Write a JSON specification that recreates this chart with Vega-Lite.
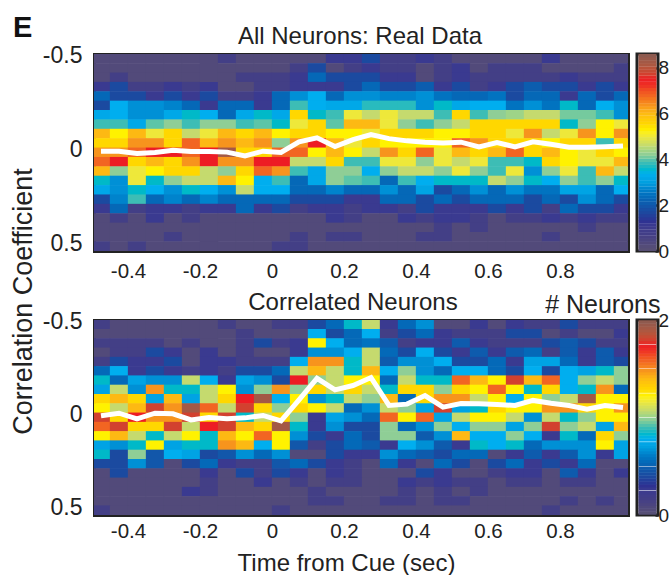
{"$schema":"https://vega.github.io/schema/vega-lite/v6.json","background":"white","padding":{"left":8,"top":14,"right":0,"bottom":0},"bounds":"flush","align":"each","columns":2,"spacing":{"row":69,"column":9},"resolve":{"scale":{"color":"independent"}},
"title":{"text":"E","anchor":"start","frame":"bounds","font":"Liberation Sans","fontWeight":"bold","fontSize":29,"color":"#111","offset":-19,"dx":4},
"config":{"font":"Liberation Sans","view":{"stroke":null},"axis":{"zindex":1,"grid":false,"domainColor":"#222","domainWidth":3,"domainCap":"square","tickColor":"#222","tickWidth":2.5,"labelFont":"Liberation Sans","labelFontSize":20.5,"labelColor":"#222","titleFont":"Liberation Sans","titleFontWeight":"normal","titleFontSize":24,"titleColor":"#222"}},
"concat":[
{"width":534,"height":197,"resolve":{"axis":{"x":"independent","y":"independent"}},"layer":[
{"data":{"values":[
{"t":-0.475,"c":-0.5,"n":0.26},{"t":-0.425,"c":-0.5,"n":0.26},{"t":-0.375,"c":-0.5,"n":0.26},{"t":-0.325,"c":-0.5,"n":0.26},{"t":-0.275,"c":-0.5,"n":0.26},{"t":-0.225,"c":-0.5,"n":0.26},{"t":-0.175,"c":-0.5,"n":0.26},{"t":-0.125,"c":-0.5,"n":0.69},{"t":-0.075,"c":-0.5,"n":0.26},{"t":-0.025,"c":-0.5,"n":0.26},{"t":0.025,"c":-0.5,"n":0.26},{"t":0.075,"c":-0.5,"n":0.26},{"t":0.125,"c":-0.5,"n":0.26},{"t":0.175,"c":-0.5,"n":1.12},{"t":0.225,"c":-0.5,"n":1.12},{"t":0.275,"c":-0.5,"n":1.72},{"t":0.325,"c":-0.5,"n":0.69},{"t":0.375,"c":-0.5,"n":0.69},{"t":0.425,"c":-0.5,"n":1.12},{"t":0.475,"c":-0.5,"n":0.69},{"t":0.525,"c":-0.5,"n":0.26},{"t":0.575,"c":-0.5,"n":0.26},{"t":0.625,"c":-0.5,"n":0.26},{"t":0.675,"c":-0.5,"n":0.26},{"t":0.725,"c":-0.5,"n":0.26},{"t":0.775,"c":-0.5,"n":1.12},{"t":0.825,"c":-0.5,"n":0.26},{"t":0.875,"c":-0.5,"n":0.26},{"t":0.925,"c":-0.5,"n":0.26},{"t":0.975,"c":-0.5,"n":0.26},
{"t":-0.475,"c":-0.45,"n":0.26},{"t":-0.425,"c":-0.45,"n":0.26},{"t":-0.375,"c":-0.45,"n":0.26},{"t":-0.325,"c":-0.45,"n":0.26},{"t":-0.275,"c":-0.45,"n":0.26},{"t":-0.225,"c":-0.45,"n":0.26},{"t":-0.175,"c":-0.45,"n":0.26},{"t":-0.125,"c":-0.45,"n":0.26},{"t":-0.075,"c":-0.45,"n":0.26},{"t":-0.025,"c":-0.45,"n":0.26},{"t":0.025,"c":-0.45,"n":0.26},{"t":0.075,"c":-0.45,"n":0.69},{"t":0.125,"c":-0.45,"n":1.72},{"t":0.175,"c":-0.45,"n":0.26},{"t":0.225,"c":-0.45,"n":0.69},{"t":0.275,"c":-0.45,"n":1.12},{"t":0.325,"c":-0.45,"n":0.69},{"t":0.375,"c":-0.45,"n":0.69},{"t":0.425,"c":-0.45,"n":0.26},{"t":0.475,"c":-0.45,"n":0.69},{"t":0.525,"c":-0.45,"n":1.12},{"t":0.575,"c":-0.45,"n":0.26},{"t":0.625,"c":-0.45,"n":0.69},{"t":0.675,"c":-0.45,"n":0.69},{"t":0.725,"c":-0.45,"n":0.69},{"t":0.775,"c":-0.45,"n":0.26},{"t":0.825,"c":-0.45,"n":0.26},{"t":0.875,"c":-0.45,"n":0.26},{"t":0.925,"c":-0.45,"n":0.26},{"t":0.975,"c":-0.45,"n":0.69},
{"t":-0.475,"c":-0.4,"n":0.26},{"t":-0.425,"c":-0.4,"n":0.69},{"t":-0.375,"c":-0.4,"n":0.26},{"t":-0.325,"c":-0.4,"n":0.26},{"t":-0.275,"c":-0.4,"n":0.26},{"t":-0.225,"c":-0.4,"n":0.26},{"t":-0.175,"c":-0.4,"n":0.26},{"t":-0.125,"c":-0.4,"n":0.26},{"t":-0.075,"c":-0.4,"n":0.69},{"t":-0.025,"c":-0.4,"n":0.69},{"t":0.025,"c":-0.4,"n":0.69},{"t":0.075,"c":-0.4,"n":1.12},{"t":0.125,"c":-0.4,"n":2.3},{"t":0.175,"c":-0.4,"n":1.72},{"t":0.225,"c":-0.4,"n":1.72},{"t":0.275,"c":-0.4,"n":1.72},{"t":0.325,"c":-0.4,"n":1.12},{"t":0.375,"c":-0.4,"n":1.12},{"t":0.425,"c":-0.4,"n":0.26},{"t":0.475,"c":-0.4,"n":0.69},{"t":0.525,"c":-0.4,"n":1.12},{"t":0.575,"c":-0.4,"n":0.69},{"t":0.625,"c":-0.4,"n":0.69},{"t":0.675,"c":-0.4,"n":0.69},{"t":0.725,"c":-0.4,"n":0.69},{"t":0.775,"c":-0.4,"n":0.69},{"t":0.825,"c":-0.4,"n":1.12},{"t":0.875,"c":-0.4,"n":0.69},{"t":0.925,"c":-0.4,"n":0.69},{"t":0.975,"c":-0.4,"n":0.69},
{"t":-0.475,"c":-0.35,"n":1.12},{"t":-0.425,"c":-0.35,"n":1.72},{"t":-0.375,"c":-0.35,"n":0.69},{"t":-0.325,"c":-0.35,"n":0.69},{"t":-0.275,"c":-0.35,"n":1.12},{"t":-0.225,"c":-0.35,"n":0.69},{"t":-0.175,"c":-0.35,"n":1.12},{"t":-0.125,"c":-0.35,"n":0.26},{"t":-0.075,"c":-0.35,"n":0.26},{"t":-0.025,"c":-0.35,"n":0.69},{"t":0.025,"c":-0.35,"n":0.69},{"t":0.075,"c":-0.35,"n":1.12},{"t":0.125,"c":-0.35,"n":1.12},{"t":0.175,"c":-0.35,"n":1.12},{"t":0.225,"c":-0.35,"n":1.72},{"t":0.275,"c":-0.35,"n":2.3},{"t":0.325,"c":-0.35,"n":1.72},{"t":0.375,"c":-0.35,"n":1.72},{"t":0.425,"c":-0.35,"n":2.1},{"t":0.475,"c":-0.35,"n":1.12},{"t":0.525,"c":-0.35,"n":1.72},{"t":0.575,"c":-0.35,"n":0.69},{"t":0.625,"c":-0.35,"n":1.12},{"t":0.675,"c":-0.35,"n":1.72},{"t":0.725,"c":-0.35,"n":2.1},{"t":0.775,"c":-0.35,"n":1.72},{"t":0.825,"c":-0.35,"n":1.72},{"t":0.875,"c":-0.35,"n":1.12},{"t":0.925,"c":-0.35,"n":1.72},{"t":0.975,"c":-0.35,"n":1.12},
{"t":-0.475,"c":-0.3,"n":2.3},{"t":-0.425,"c":-0.3,"n":1.72},{"t":-0.375,"c":-0.3,"n":1.72},{"t":-0.325,"c":-0.3,"n":1.12},{"t":-0.275,"c":-0.3,"n":1.72},{"t":-0.225,"c":-0.3,"n":1.12},{"t":-0.175,"c":-0.3,"n":1.72},{"t":-0.125,"c":-0.3,"n":0.69},{"t":-0.075,"c":-0.3,"n":0.69},{"t":-0.025,"c":-0.3,"n":1.12},{"t":0.025,"c":-0.3,"n":2.3},{"t":0.075,"c":-0.3,"n":2.84},{"t":0.125,"c":-0.3,"n":3.35},{"t":0.175,"c":-0.3,"n":2.3},{"t":0.225,"c":-0.3,"n":2.84},{"t":0.275,"c":-0.3,"n":2.84},{"t":0.325,"c":-0.3,"n":2.7},{"t":0.375,"c":-0.3,"n":2.7},{"t":0.425,"c":-0.3,"n":2.84},{"t":0.475,"c":-0.3,"n":2.5},{"t":0.525,"c":-0.3,"n":2.3},{"t":0.575,"c":-0.3,"n":2.3},{"t":0.625,"c":-0.3,"n":2.5},{"t":0.675,"c":-0.3,"n":1.72},{"t":0.725,"c":-0.3,"n":2.3},{"t":0.775,"c":-0.3,"n":2.3},{"t":0.825,"c":-0.3,"n":1.12},{"t":0.875,"c":-0.3,"n":2.3},{"t":0.925,"c":-0.3,"n":1.72},{"t":0.975,"c":-0.3,"n":2.3},
{"t":-0.475,"c":-0.25,"n":1.72},{"t":-0.425,"c":-0.25,"n":3.35},{"t":-0.375,"c":-0.25,"n":2.84},{"t":-0.325,"c":-0.25,"n":2.84},{"t":-0.275,"c":-0.25,"n":2.7},{"t":-0.225,"c":-0.25,"n":2.3},{"t":-0.175,"c":-0.25,"n":1.12},{"t":-0.125,"c":-0.25,"n":2.3},{"t":-0.075,"c":-0.25,"n":2.3},{"t":-0.025,"c":-0.25,"n":1.12},{"t":0.025,"c":-0.25,"n":2.3},{"t":0.075,"c":-0.25,"n":3.87},{"t":0.125,"c":-0.25,"n":3.35},{"t":0.175,"c":-0.25,"n":3.2},{"t":0.225,"c":-0.25,"n":3.2},{"t":0.275,"c":-0.25,"n":3.75},{"t":0.325,"c":-0.25,"n":3.75},{"t":0.375,"c":-0.25,"n":3.75},{"t":0.425,"c":-0.25,"n":2.84},{"t":0.475,"c":-0.25,"n":3.61},{"t":0.525,"c":-0.25,"n":3.2},{"t":0.575,"c":-0.25,"n":3.35},{"t":0.625,"c":-0.25,"n":3.35},{"t":0.675,"c":-0.25,"n":2.5},{"t":0.725,"c":-0.25,"n":2.84},{"t":0.775,"c":-0.25,"n":2.5},{"t":0.825,"c":-0.25,"n":3.61},{"t":0.875,"c":-0.25,"n":2.3},{"t":0.925,"c":-0.25,"n":3.35},{"t":0.975,"c":-0.25,"n":2.84},
{"t":-0.475,"c":-0.2,"n":3.2},{"t":-0.425,"c":-0.2,"n":3.35},{"t":-0.375,"c":-0.2,"n":2.84},{"t":-0.325,"c":-0.2,"n":2.84},{"t":-0.275,"c":-0.2,"n":3.2},{"t":-0.225,"c":-0.2,"n":3.61},{"t":-0.175,"c":-0.2,"n":3.35},{"t":-0.125,"c":-0.2,"n":2.3},{"t":-0.075,"c":-0.2,"n":3.2},{"t":-0.025,"c":-0.2,"n":3.61},{"t":0.025,"c":-0.2,"n":3.2},{"t":0.075,"c":-0.2,"n":5.55},{"t":0.125,"c":-0.2,"n":3.61},{"t":0.175,"c":-0.2,"n":3.87},{"t":0.225,"c":-0.2,"n":4.99},{"t":0.275,"c":-0.2,"n":4.6},{"t":0.325,"c":-0.2,"n":4.99},{"t":0.375,"c":-0.2,"n":4.6},{"t":0.425,"c":-0.2,"n":4.6},{"t":0.475,"c":-0.2,"n":3.87},{"t":0.525,"c":-0.2,"n":5.55},{"t":0.575,"c":-0.2,"n":3.87},{"t":0.625,"c":-0.2,"n":4.21},{"t":0.675,"c":-0.2,"n":4.35},{"t":0.725,"c":-0.2,"n":4.6},{"t":0.775,"c":-0.2,"n":4.6},{"t":0.825,"c":-0.2,"n":4.1},{"t":0.875,"c":-0.2,"n":4.1},{"t":0.925,"c":-0.2,"n":3.87},{"t":0.975,"c":-0.2,"n":2.84},
{"t":-0.475,"c":-0.15,"n":3.87},{"t":-0.425,"c":-0.15,"n":3.87},{"t":-0.375,"c":-0.15,"n":3.2},{"t":-0.325,"c":-0.15,"n":4},{"t":-0.275,"c":-0.15,"n":4.21},{"t":-0.225,"c":-0.15,"n":3.87},{"t":-0.175,"c":-0.15,"n":4.21},{"t":-0.125,"c":-0.15,"n":4.21},{"t":-0.075,"c":-0.15,"n":3.87},{"t":-0.025,"c":-0.15,"n":4},{"t":0.025,"c":-0.15,"n":3.61},{"t":0.075,"c":-0.15,"n":4.99},{"t":0.125,"c":-0.15,"n":5.55},{"t":0.175,"c":-0.15,"n":4},{"t":0.225,"c":-0.15,"n":6.02},{"t":0.275,"c":-0.15,"n":6.02},{"t":0.325,"c":-0.15,"n":4.99},{"t":0.375,"c":-0.15,"n":4.21},{"t":0.425,"c":-0.15,"n":3.87},{"t":0.475,"c":-0.15,"n":4.21},{"t":0.525,"c":-0.15,"n":4.6},{"t":0.575,"c":-0.15,"n":5.55},{"t":0.625,"c":-0.15,"n":5.55},{"t":0.675,"c":-0.15,"n":5.55},{"t":0.725,"c":-0.15,"n":5.55},{"t":0.775,"c":-0.15,"n":5.55},{"t":0.825,"c":-0.15,"n":3.61},{"t":0.875,"c":-0.15,"n":4.21},{"t":0.925,"c":-0.15,"n":5.25},{"t":0.975,"c":-0.15,"n":4.99},
{"t":-0.475,"c":-0.1,"n":6.02},{"t":-0.425,"c":-0.1,"n":5.25},{"t":-0.375,"c":-0.1,"n":6.02},{"t":-0.325,"c":-0.1,"n":4.99},{"t":-0.275,"c":-0.1,"n":5.55},{"t":-0.225,"c":-0.1,"n":4.6},{"t":-0.175,"c":-0.1,"n":4.99},{"t":-0.125,"c":-0.1,"n":6.02},{"t":-0.075,"c":-0.1,"n":5.55},{"t":-0.025,"c":-0.1,"n":6.02},{"t":0.025,"c":-0.1,"n":5.25},{"t":0.075,"c":-0.1,"n":5.55},{"t":0.125,"c":-0.1,"n":5.55},{"t":0.175,"c":-0.1,"n":5.25},{"t":0.225,"c":-0.1,"n":5.25},{"t":0.275,"c":-0.1,"n":4.99},{"t":0.325,"c":-0.1,"n":5.55},{"t":0.375,"c":-0.1,"n":5.55},{"t":0.425,"c":-0.1,"n":5.55},{"t":0.475,"c":-0.1,"n":5.25},{"t":0.525,"c":-0.1,"n":5.25},{"t":0.575,"c":-0.1,"n":5.55},{"t":0.625,"c":-0.1,"n":5.55},{"t":0.675,"c":-0.1,"n":4.99},{"t":0.725,"c":-0.1,"n":6.36},{"t":0.775,"c":-0.1,"n":4.6},{"t":0.825,"c":-0.1,"n":4.99},{"t":0.875,"c":-0.1,"n":6.36},{"t":0.925,"c":-0.1,"n":5.25},{"t":0.975,"c":-0.1,"n":6.36},
{"t":-0.475,"c":-0.05,"n":5.55},{"t":-0.425,"c":-0.05,"n":5.55},{"t":-0.375,"c":-0.05,"n":6.36},{"t":-0.325,"c":-0.05,"n":6.36},{"t":-0.275,"c":-0.05,"n":5.55},{"t":-0.225,"c":-0.05,"n":6.79},{"t":-0.175,"c":-0.05,"n":6.02},{"t":-0.125,"c":-0.05,"n":6.36},{"t":-0.075,"c":-0.05,"n":6.02},{"t":-0.025,"c":-0.05,"n":6.36},{"t":0.025,"c":-0.05,"n":4.21},{"t":0.075,"c":-0.05,"n":6.36},{"t":0.125,"c":-0.05,"n":7.53},{"t":0.175,"c":-0.05,"n":6.02},{"t":0.225,"c":-0.05,"n":4.99},{"t":0.275,"c":-0.05,"n":5.55},{"t":0.325,"c":-0.05,"n":5.25},{"t":0.375,"c":-0.05,"n":5.25},{"t":0.425,"c":-0.05,"n":5.25},{"t":0.475,"c":-0.05,"n":5.25},{"t":0.525,"c":-0.05,"n":6.79},{"t":0.575,"c":-0.05,"n":6.36},{"t":0.625,"c":-0.05,"n":5.55},{"t":0.675,"c":-0.05,"n":5.55},{"t":0.725,"c":-0.05,"n":5.55},{"t":0.775,"c":-0.05,"n":5.25},{"t":0.825,"c":-0.05,"n":5.55},{"t":0.875,"c":-0.05,"n":5.55},{"t":0.925,"c":-0.05,"n":3.87},{"t":0.975,"c":-0.05,"n":5.55},
{"t":-0.475,"c":0,"n":6.36},{"t":-0.425,"c":0,"n":6.36},{"t":-0.375,"c":0,"n":6.79},{"t":-0.325,"c":0,"n":7.53},{"t":-0.275,"c":0,"n":7.53},{"t":-0.225,"c":0,"n":6.79},{"t":-0.175,"c":0,"n":7.53},{"t":-0.125,"c":0,"n":8.25},{"t":-0.075,"c":0,"n":5.55},{"t":-0.025,"c":0,"n":5.55},{"t":0.025,"c":0,"n":6.79},{"t":0.075,"c":0,"n":6.79},{"t":0.125,"c":0,"n":5.25},{"t":0.175,"c":0,"n":6.02},{"t":0.225,"c":0,"n":5.25},{"t":0.275,"c":0,"n":4.6},{"t":0.325,"c":0,"n":6.36},{"t":0.375,"c":0,"n":5.55},{"t":0.425,"c":0,"n":6.79},{"t":0.475,"c":0,"n":4.99},{"t":0.525,"c":0,"n":6.02},{"t":0.575,"c":0,"n":5.55},{"t":0.625,"c":0,"n":6.02},{"t":0.675,"c":0,"n":6.79},{"t":0.725,"c":0,"n":5.55},{"t":0.775,"c":0,"n":6.02},{"t":0.825,"c":0,"n":5.25},{"t":0.875,"c":0,"n":4.99},{"t":0.925,"c":0,"n":5.55},{"t":0.975,"c":0,"n":5.25},
{"t":-0.475,"c":0.05,"n":6.79},{"t":-0.425,"c":0.05,"n":7.53},{"t":-0.375,"c":0.05,"n":5.55},{"t":-0.325,"c":0.05,"n":6.02},{"t":-0.275,"c":0.05,"n":5.55},{"t":-0.225,"c":0.05,"n":6.36},{"t":-0.175,"c":0.05,"n":7.53},{"t":-0.125,"c":0.05,"n":6.36},{"t":-0.075,"c":0.05,"n":6.36},{"t":-0.025,"c":0.05,"n":7.53},{"t":0.025,"c":0.05,"n":7.53},{"t":0.075,"c":0.05,"n":4.6},{"t":0.125,"c":0.05,"n":4.6},{"t":0.175,"c":0.05,"n":5.55},{"t":0.225,"c":0.05,"n":3.87},{"t":0.275,"c":0.05,"n":3.87},{"t":0.325,"c":0.05,"n":4.99},{"t":0.375,"c":0.05,"n":4.99},{"t":0.425,"c":0.05,"n":4.21},{"t":0.475,"c":0.05,"n":4.99},{"t":0.525,"c":0.05,"n":4.6},{"t":0.575,"c":0.05,"n":4.99},{"t":0.625,"c":0.05,"n":3.87},{"t":0.675,"c":0.05,"n":3.87},{"t":0.725,"c":0.05,"n":3.61},{"t":0.775,"c":0.05,"n":5.55},{"t":0.825,"c":0.05,"n":5.25},{"t":0.875,"c":0.05,"n":4.99},{"t":0.925,"c":0.05,"n":4.99},{"t":0.975,"c":0.05,"n":6.02},
{"t":-0.475,"c":0.1,"n":6.02},{"t":-0.425,"c":0.1,"n":4.21},{"t":-0.375,"c":0.1,"n":4.99},{"t":-0.325,"c":0.1,"n":5.25},{"t":-0.275,"c":0.1,"n":5.55},{"t":-0.225,"c":0.1,"n":5.55},{"t":-0.175,"c":0.1,"n":4.6},{"t":-0.125,"c":0.1,"n":4.21},{"t":-0.075,"c":0.1,"n":5.55},{"t":-0.025,"c":0.1,"n":6.79},{"t":0.025,"c":0.1,"n":6.36},{"t":0.075,"c":0.1,"n":3.87},{"t":0.125,"c":0.1,"n":3.2},{"t":0.175,"c":0.1,"n":4.21},{"t":0.225,"c":0.1,"n":4.21},{"t":0.275,"c":0.1,"n":3.35},{"t":0.325,"c":0.1,"n":4.21},{"t":0.375,"c":0.1,"n":4.6},{"t":0.425,"c":0.1,"n":4.6},{"t":0.475,"c":0.1,"n":4.21},{"t":0.525,"c":0.1,"n":4.99},{"t":0.575,"c":0.1,"n":4.21},{"t":0.625,"c":0.1,"n":3.87},{"t":0.675,"c":0.1,"n":4.99},{"t":0.725,"c":0.1,"n":2.84},{"t":0.775,"c":0.1,"n":4.21},{"t":0.825,"c":0.1,"n":4.99},{"t":0.875,"c":0.1,"n":3.87},{"t":0.925,"c":0.1,"n":6.02},{"t":0.975,"c":0.1,"n":4.6},
{"t":-0.475,"c":0.15,"n":3.61},{"t":-0.425,"c":0.15,"n":2.84},{"t":-0.375,"c":0.15,"n":4.99},{"t":-0.325,"c":0.15,"n":3.61},{"t":-0.275,"c":0.15,"n":4.21},{"t":-0.225,"c":0.15,"n":4.6},{"t":-0.175,"c":0.15,"n":4.6},{"t":-0.125,"c":0.15,"n":6.02},{"t":-0.075,"c":0.15,"n":5.25},{"t":-0.025,"c":0.15,"n":3.35},{"t":0.025,"c":0.15,"n":3.87},{"t":0.075,"c":0.15,"n":2.3},{"t":0.125,"c":0.15,"n":3.2},{"t":0.175,"c":0.15,"n":4.21},{"t":0.225,"c":0.15,"n":4},{"t":0.275,"c":0.15,"n":3.87},{"t":0.325,"c":0.15,"n":2.3},{"t":0.375,"c":0.15,"n":3.87},{"t":0.425,"c":0.15,"n":3.35},{"t":0.475,"c":0.15,"n":3.61},{"t":0.525,"c":0.15,"n":3.61},{"t":0.575,"c":0.15,"n":3.61},{"t":0.625,"c":0.15,"n":4.6},{"t":0.675,"c":0.15,"n":4.21},{"t":0.725,"c":0.15,"n":3.61},{"t":0.775,"c":0.15,"n":3.35},{"t":0.825,"c":0.15,"n":4.21},{"t":0.875,"c":0.15,"n":3.87},{"t":0.925,"c":0.15,"n":4.21},{"t":0.975,"c":0.15,"n":3.61},
{"t":-0.475,"c":0.2,"n":3.2},{"t":-0.425,"c":0.2,"n":2.84},{"t":-0.375,"c":0.2,"n":3.61},{"t":-0.325,"c":0.2,"n":3.35},{"t":-0.275,"c":0.2,"n":2.84},{"t":-0.225,"c":0.2,"n":3.61},{"t":-0.175,"c":0.2,"n":3.35},{"t":-0.125,"c":0.2,"n":2.84},{"t":-0.075,"c":0.2,"n":4.6},{"t":-0.025,"c":0.2,"n":3.35},{"t":0.025,"c":0.2,"n":3.35},{"t":0.075,"c":0.2,"n":2.3},{"t":0.125,"c":0.2,"n":2.3},{"t":0.175,"c":0.2,"n":2.7},{"t":0.225,"c":0.2,"n":2.3},{"t":0.275,"c":0.2,"n":2.3},{"t":0.325,"c":0.2,"n":2.84},{"t":0.375,"c":0.2,"n":2.3},{"t":0.425,"c":0.2,"n":3.1},{"t":0.475,"c":0.2,"n":1.72},{"t":0.525,"c":0.2,"n":2.3},{"t":0.575,"c":0.2,"n":2.84},{"t":0.625,"c":0.2,"n":2.3},{"t":0.675,"c":0.2,"n":2.84},{"t":0.725,"c":0.2,"n":2.5},{"t":0.775,"c":0.2,"n":2.5},{"t":0.825,"c":0.2,"n":3.1},{"t":0.875,"c":0.2,"n":3.1},{"t":0.925,"c":0.2,"n":2.3},{"t":0.975,"c":0.2,"n":3.35},
{"t":-0.475,"c":0.25,"n":1.72},{"t":-0.425,"c":0.25,"n":2.7},{"t":-0.375,"c":0.25,"n":3.87},{"t":-0.325,"c":0.25,"n":2.3},{"t":-0.275,"c":0.25,"n":2.7},{"t":-0.225,"c":0.25,"n":2.3},{"t":-0.175,"c":0.25,"n":2.7},{"t":-0.125,"c":0.25,"n":2.3},{"t":-0.075,"c":0.25,"n":2.3},{"t":-0.025,"c":0.25,"n":2.3},{"t":0.025,"c":0.25,"n":2.3},{"t":0.075,"c":0.25,"n":1.72},{"t":0.125,"c":0.25,"n":1.72},{"t":0.175,"c":0.25,"n":1.72},{"t":0.225,"c":0.25,"n":1.12},{"t":0.275,"c":0.25,"n":1.12},{"t":0.325,"c":0.25,"n":2.3},{"t":0.375,"c":0.25,"n":2.3},{"t":0.425,"c":0.25,"n":1.72},{"t":0.475,"c":0.25,"n":2.3},{"t":0.525,"c":0.25,"n":1.72},{"t":0.575,"c":0.25,"n":2.3},{"t":0.625,"c":0.25,"n":2.3},{"t":0.675,"c":0.25,"n":2.3},{"t":0.725,"c":0.25,"n":1.72},{"t":0.775,"c":0.25,"n":2.3},{"t":0.825,"c":0.25,"n":1.72},{"t":0.875,"c":0.25,"n":2.84},{"t":0.925,"c":0.25,"n":2.3},{"t":0.975,"c":0.25,"n":1.72},
{"t":-0.475,"c":0.3,"n":1.12},{"t":-0.425,"c":0.3,"n":2.3},{"t":-0.375,"c":0.3,"n":0.69},{"t":-0.325,"c":0.3,"n":1.12},{"t":-0.275,"c":0.3,"n":1.12},{"t":-0.225,"c":0.3,"n":0.69},{"t":-0.175,"c":0.3,"n":1.12},{"t":-0.125,"c":0.3,"n":1.12},{"t":-0.075,"c":0.3,"n":2.3},{"t":-0.025,"c":0.3,"n":1.12},{"t":0.025,"c":0.3,"n":1.72},{"t":0.075,"c":0.3,"n":0.69},{"t":0.125,"c":0.3,"n":1.12},{"t":0.175,"c":0.3,"n":1.12},{"t":0.225,"c":0.3,"n":0.69},{"t":0.275,"c":0.3,"n":1.12},{"t":0.325,"c":0.3,"n":1.12},{"t":0.375,"c":0.3,"n":0.69},{"t":0.425,"c":0.3,"n":1.72},{"t":0.475,"c":0.3,"n":1.12},{"t":0.525,"c":0.3,"n":1.12},{"t":0.575,"c":0.3,"n":1.12},{"t":0.625,"c":0.3,"n":1.72},{"t":0.675,"c":0.3,"n":1.12},{"t":0.725,"c":0.3,"n":1.72},{"t":0.775,"c":0.3,"n":0.69},{"t":0.825,"c":0.3,"n":2.3},{"t":0.875,"c":0.3,"n":1.72},{"t":0.925,"c":0.3,"n":1.72},{"t":0.975,"c":0.3,"n":1.12},
{"t":-0.475,"c":0.35,"n":0.26},{"t":-0.425,"c":0.35,"n":0.69},{"t":-0.375,"c":0.35,"n":0.26},{"t":-0.325,"c":0.35,"n":1.12},{"t":-0.275,"c":0.35,"n":0.26},{"t":-0.225,"c":0.35,"n":0.69},{"t":-0.175,"c":0.35,"n":0.26},{"t":-0.125,"c":0.35,"n":0.26},{"t":-0.075,"c":0.35,"n":0.26},{"t":-0.025,"c":0.35,"n":0.26},{"t":0.025,"c":0.35,"n":0.26},{"t":0.075,"c":0.35,"n":0.26},{"t":0.125,"c":0.35,"n":0.26},{"t":0.175,"c":0.35,"n":1.12},{"t":0.225,"c":0.35,"n":0.69},{"t":0.275,"c":0.35,"n":0.26},{"t":0.325,"c":0.35,"n":0.26},{"t":0.375,"c":0.35,"n":1.12},{"t":0.425,"c":0.35,"n":0.69},{"t":0.475,"c":0.35,"n":1.12},{"t":0.525,"c":0.35,"n":1.12},{"t":0.575,"c":0.35,"n":0.69},{"t":0.625,"c":0.35,"n":0.26},{"t":0.675,"c":0.35,"n":0.69},{"t":0.725,"c":0.35,"n":0.69},{"t":0.775,"c":0.35,"n":1.12},{"t":0.825,"c":0.35,"n":0.69},{"t":0.875,"c":0.35,"n":1.12},{"t":0.925,"c":0.35,"n":0.69},{"t":0.975,"c":0.35,"n":0.69},
{"t":-0.475,"c":0.4,"n":0.26},{"t":-0.425,"c":0.4,"n":0.26},{"t":-0.375,"c":0.4,"n":0.26},{"t":-0.325,"c":0.4,"n":0.26},{"t":-0.275,"c":0.4,"n":0.26},{"t":-0.225,"c":0.4,"n":0.26},{"t":-0.175,"c":0.4,"n":0.26},{"t":-0.125,"c":0.4,"n":0.26},{"t":-0.075,"c":0.4,"n":0.26},{"t":-0.025,"c":0.4,"n":0.26},{"t":0.025,"c":0.4,"n":0.26},{"t":0.075,"c":0.4,"n":0.26},{"t":0.125,"c":0.4,"n":0.26},{"t":0.175,"c":0.4,"n":0.26},{"t":0.225,"c":0.4,"n":0.26},{"t":0.275,"c":0.4,"n":0.26},{"t":0.325,"c":0.4,"n":0.26},{"t":0.375,"c":0.4,"n":0.26},{"t":0.425,"c":0.4,"n":0.26},{"t":0.475,"c":0.4,"n":0.69},{"t":0.525,"c":0.4,"n":0.26},{"t":0.575,"c":0.4,"n":0.69},{"t":0.625,"c":0.4,"n":0.26},{"t":0.675,"c":0.4,"n":0.26},{"t":0.725,"c":0.4,"n":0.26},{"t":0.775,"c":0.4,"n":0.26},{"t":0.825,"c":0.4,"n":0.26},{"t":0.875,"c":0.4,"n":0.69},{"t":0.925,"c":0.4,"n":0.26},{"t":0.975,"c":0.4,"n":0.26},
{"t":-0.475,"c":0.45,"n":0.26},{"t":-0.425,"c":0.45,"n":0.26},{"t":-0.375,"c":0.45,"n":0.26},{"t":-0.325,"c":0.45,"n":0.26},{"t":-0.275,"c":0.45,"n":0.69},{"t":-0.225,"c":0.45,"n":0.26},{"t":-0.175,"c":0.45,"n":0.26},{"t":-0.125,"c":0.45,"n":0.26},{"t":-0.075,"c":0.45,"n":0.26},{"t":-0.025,"c":0.45,"n":0.26},{"t":0.025,"c":0.45,"n":0.26},{"t":0.075,"c":0.45,"n":0.69},{"t":0.125,"c":0.45,"n":0.26},{"t":0.175,"c":0.45,"n":0.69},{"t":0.225,"c":0.45,"n":0.69},{"t":0.275,"c":0.45,"n":0.26},{"t":0.325,"c":0.45,"n":0.26},{"t":0.375,"c":0.45,"n":0.26},{"t":0.425,"c":0.45,"n":0.69},{"t":0.475,"c":0.45,"n":0.69},{"t":0.525,"c":0.45,"n":0.26},{"t":0.575,"c":0.45,"n":0.26},{"t":0.625,"c":0.45,"n":0.26},{"t":0.675,"c":0.45,"n":0.26},{"t":0.725,"c":0.45,"n":0.26},{"t":0.775,"c":0.45,"n":0.69},{"t":0.825,"c":0.45,"n":0.26},{"t":0.875,"c":0.45,"n":0.26},{"t":0.925,"c":0.45,"n":0.26},{"t":0.975,"c":0.45,"n":0.26},
{"t":-0.475,"c":0.5,"n":0.69},{"t":-0.425,"c":0.5,"n":0.26},{"t":-0.375,"c":0.5,"n":0.69},{"t":-0.325,"c":0.5,"n":0.26},{"t":-0.275,"c":0.5,"n":0.26},{"t":-0.225,"c":0.5,"n":0.26},{"t":-0.175,"c":0.5,"n":0.26},{"t":-0.125,"c":0.5,"n":0.26},{"t":-0.075,"c":0.5,"n":0.26},{"t":-0.025,"c":0.5,"n":0.26},{"t":0.025,"c":0.5,"n":0.69},{"t":0.075,"c":0.5,"n":0.69},{"t":0.125,"c":0.5,"n":0.26},{"t":0.175,"c":0.5,"n":0.26},{"t":0.225,"c":0.5,"n":0.26},{"t":0.275,"c":0.5,"n":0.26},{"t":0.325,"c":0.5,"n":0.26},{"t":0.375,"c":0.5,"n":0.26},{"t":0.425,"c":0.5,"n":0.26},{"t":0.475,"c":0.5,"n":0.26},{"t":0.525,"c":0.5,"n":0.26},{"t":0.575,"c":0.5,"n":0.26},{"t":0.625,"c":0.5,"n":0.26},{"t":0.675,"c":0.5,"n":0.26},{"t":0.725,"c":0.5,"n":0.26},{"t":0.775,"c":0.5,"n":0.26},{"t":0.825,"c":0.5,"n":0.26},{"t":0.875,"c":0.5,"n":0.26},{"t":0.925,"c":0.5,"n":0.26},{"t":0.975,"c":0.5,"n":0.26}
]},"mark":{"type":"rect","width":18.3,"height":9.9,"clip":true},"encoding":{"x":{"field":"t","type":"quantitative","scale":{"domain":[-0.49444,0.98889],"nice":false,"zero":false},"axis":{"values":[-0.4,-0.2,0,0.2,0.4,0.6,0.8],"title":null,"tickSize":-7,"labelPadding":17,"labelExpr":"replace(format(datum.value,'.1~f'),'−','-')"}},"y":{"field":"c","type":"quantitative","scale":{"domain":[-0.525,0.525],"nice":false,"zero":false,"reverse":true},"axis":{"values":[-0.5,0,0.5],"title":null,"tickSize":-4,"labelPadding":16,"labelFontSize":23,"labelOffset":-3,"labelExpr":"replace(format(datum.value,'.1~f'),'−','-')"}},"color":{"field":"n","type":"quantitative","legend":null,"scale":{"domain":[0.26,0.69,1.12,1.29,1.72,2.15,2.58,3.01,3.35,3.61,3.87,4.21,4.6,4.99,5.25,5.55,6.02,6.36,6.79,7.22,7.53,7.74,8.08,8.51],"range":["#524a7a","#433f86","#3a3a90","#2e3192","#1b4aa0","#0a5fb0","#0078c4","#00a0e0","#00aeef","#00b9c8","#3dbdb5","#8fce96","#c5da6e","#eee83a","#fff200","#ffd700","#fdb913","#f7941d","#f26522","#ee3124","#ed1c24","#d2412f","#b0583f","#8f5a4e"]}}}},
{"data":{"values":[{"t":-0.475,"c":-0.007},{"t":-0.425,"c":-0.007},{"t":-0.375,"c":0.005},{"t":-0.325,"c":0},{"t":-0.275,"c":-0.012},{"t":-0.225,"c":-0.005},{"t":-0.175,"c":-0.005},{"t":-0.125,"c":-0.002},{"t":-0.075,"c":0.018},{"t":-0.025,"c":-0.007},{"t":0.025,"c":0},{"t":0.075,"c":-0.057},{"t":0.125,"c":-0.078},{"t":0.175,"c":-0.032},{"t":0.225,"c":-0.069},{"t":0.275,"c":-0.095},{"t":0.325,"c":-0.074},{"t":0.375,"c":-0.062},{"t":0.425,"c":-0.055},{"t":0.475,"c":-0.051},{"t":0.525,"c":-0.055},{"t":0.575,"c":-0.03},{"t":0.625,"c":-0.053},{"t":0.675,"c":-0.03},{"t":0.725,"c":-0.057},{"t":0.775,"c":-0.044},{"t":0.825,"c":-0.028},{"t":0.875,"c":-0.028},{"t":0.925,"c":-0.03},{"t":0.975,"c":-0.034}]},"mark":{"type":"line","color":"white","strokeWidth":5},"encoding":{"x":{"field":"t","type":"quantitative","scale":{"domain":[-0.49444,0.98889],"nice":false,"zero":false},"axis":{"orient":"top","values":[-0.4,-0.2,0,0.2,0.4,0.6,0.8],"title":"All Neurons: Real Data","titleX":265.5,"titleY":-6,"labels":false,"tickSize":-7}},"y":{"field":"c","type":"quantitative","scale":{"domain":[-0.525,0.525],"nice":false,"zero":false,"reverse":true},"axis":{"orient":"right","values":[-0.5,0,0.5],"title":null,"labels":false,"tickSize":-4}}}}
]},
{"width":21,"height":197,"view":{"stroke":"#222","strokeWidth":3},"data":{"values":[{"n":0.07},{"n":0.2},{"n":0.34},{"n":0.47},{"n":0.6},{"n":0.74},{"n":0.87},{"n":1.01},{"n":1.14},{"n":1.28},{"n":1.41},{"n":1.54},{"n":1.68},{"n":1.81},{"n":1.95},{"n":2.08},{"n":2.22},{"n":2.35},{"n":2.48},{"n":2.62},{"n":2.75},{"n":2.89},{"n":3.02},{"n":3.16},{"n":3.29},{"n":3.43},{"n":3.56},{"n":3.69},{"n":3.83},{"n":3.96},{"n":4.1},{"n":4.23},{"n":4.37},{"n":4.5},{"n":4.64},{"n":4.77},{"n":4.9},{"n":5.04},{"n":5.17},{"n":5.31},{"n":5.44},{"n":5.58},{"n":5.71},{"n":5.84},{"n":5.98},{"n":6.11},{"n":6.25},{"n":6.38},{"n":6.52},{"n":6.65},{"n":6.79},{"n":6.92},{"n":7.05},{"n":7.19},{"n":7.32},{"n":7.46},{"n":7.59},{"n":7.73},{"n":7.86},{"n":7.99},{"n":8.13},{"n":8.26},{"n":8.4},{"n":8.53}]},"mark":{"type":"rect","height":3.4,"width":18},"encoding":{"x":{"datum":0.5,"type":"quantitative","scale":{"domain":[0,1]},"axis":null},"y":{"field":"n","type":"quantitative","scale":{"domain":[0,8.6],"nice":false,"zero":false},"axis":{"orient":"right","domain":false,"values":[0,2,4,6,8],"format":"d","title":null,"tickSize":-3,"labelPadding":3,"labelFontSize":19}},"color":{"field":"n","type":"quantitative","legend":null,"scale":{"domain":[0.26,0.69,1.12,1.29,1.72,2.15,2.58,3.01,3.35,3.61,3.87,4.21,4.6,4.99,5.25,5.55,6.02,6.36,6.79,7.22,7.53,7.74,8.08,8.51],"range":["#524a7a","#433f86","#3a3a90","#2e3192","#1b4aa0","#0a5fb0","#0078c4","#00a0e0","#00aeef","#00b9c8","#3dbdb5","#8fce96","#c5da6e","#eee83a","#fff200","#ffd700","#fdb913","#f7941d","#f26522","#ee3124","#ed1c24","#d2412f","#b0583f","#8f5a4e"]}}}},
{"width":534,"height":195,"resolve":{"axis":{"x":"independent","y":"independent"}},"layer":[
{"data":{"values":[
{"t":-0.475,"c":-0.5,"n":0.16},{"t":-0.425,"c":-0.5,"n":0.06},{"t":-0.375,"c":-0.5,"n":0.06},{"t":-0.325,"c":-0.5,"n":0.06},{"t":-0.275,"c":-0.5,"n":0.06},{"t":-0.225,"c":-0.5,"n":0.06},{"t":-0.175,"c":-0.5,"n":0.06},{"t":-0.125,"c":-0.5,"n":0.16},{"t":-0.075,"c":-0.5,"n":0.06},{"t":-0.025,"c":-0.5,"n":0.06},{"t":0.025,"c":-0.5,"n":0.16},{"t":0.075,"c":-0.5,"n":0.16},{"t":0.125,"c":-0.5,"n":0.4},{"t":0.175,"c":-0.5,"n":0.54},{"t":0.225,"c":-0.5,"n":0.84},{"t":0.275,"c":-0.5,"n":1.07},{"t":0.325,"c":-0.5,"n":0.26},{"t":0.375,"c":-0.5,"n":0.54},{"t":0.425,"c":-0.5,"n":0.66},{"t":0.475,"c":-0.5,"n":0.06},{"t":0.525,"c":-0.5,"n":0.06},{"t":0.575,"c":-0.5,"n":0.26},{"t":0.625,"c":-0.5,"n":0.06},{"t":0.675,"c":-0.5,"n":0.26},{"t":0.725,"c":-0.5,"n":0.16},{"t":0.775,"c":-0.5,"n":0.16},{"t":0.825,"c":-0.5,"n":0.4},{"t":0.875,"c":-0.5,"n":0.16},{"t":0.925,"c":-0.5,"n":0.16},{"t":0.975,"c":-0.5,"n":0.16},
{"t":-0.475,"c":-0.45,"n":0.06},{"t":-0.425,"c":-0.45,"n":0.06},{"t":-0.375,"c":-0.45,"n":0.06},{"t":-0.325,"c":-0.45,"n":0.06},{"t":-0.275,"c":-0.45,"n":0.06},{"t":-0.225,"c":-0.45,"n":0.06},{"t":-0.175,"c":-0.45,"n":0.06},{"t":-0.125,"c":-0.45,"n":0.06},{"t":-0.075,"c":-0.45,"n":0.16},{"t":-0.025,"c":-0.45,"n":0.06},{"t":0.025,"c":-0.45,"n":0.06},{"t":0.075,"c":-0.45,"n":0.06},{"t":0.125,"c":-0.45,"n":0.78},{"t":0.175,"c":-0.45,"n":0.4},{"t":0.225,"c":-0.45,"n":0.54},{"t":0.275,"c":-0.45,"n":0.78},{"t":0.325,"c":-0.45,"n":0.16},{"t":0.375,"c":-0.45,"n":0.4},{"t":0.425,"c":-0.45,"n":0.54},{"t":0.475,"c":-0.45,"n":0.26},{"t":0.525,"c":-0.45,"n":0.16},{"t":0.575,"c":-0.45,"n":0.16},{"t":0.625,"c":-0.45,"n":0.16},{"t":0.675,"c":-0.45,"n":0.4},{"t":0.725,"c":-0.45,"n":0.4},{"t":0.775,"c":-0.45,"n":0.06},{"t":0.825,"c":-0.45,"n":0.16},{"t":0.875,"c":-0.45,"n":0.06},{"t":0.925,"c":-0.45,"n":0.06},{"t":0.975,"c":-0.45,"n":0.26},
{"t":-0.475,"c":-0.4,"n":0.16},{"t":-0.425,"c":-0.4,"n":0.16},{"t":-0.375,"c":-0.4,"n":0.16},{"t":-0.325,"c":-0.4,"n":0.16},{"t":-0.275,"c":-0.4,"n":0.06},{"t":-0.225,"c":-0.4,"n":0.16},{"t":-0.175,"c":-0.4,"n":0.06},{"t":-0.125,"c":-0.4,"n":0.06},{"t":-0.075,"c":-0.4,"n":0.16},{"t":-0.025,"c":-0.4,"n":0.4},{"t":0.025,"c":-0.4,"n":0.16},{"t":0.075,"c":-0.4,"n":0.26},{"t":0.125,"c":-0.4,"n":1.22},{"t":0.175,"c":-0.4,"n":0.78},{"t":0.225,"c":-0.4,"n":0.54},{"t":0.275,"c":-0.4,"n":0.58},{"t":0.325,"c":-0.4,"n":0.48},{"t":0.375,"c":-0.4,"n":0.16},{"t":0.425,"c":-0.4,"n":0.26},{"t":0.475,"c":-0.4,"n":0.26},{"t":0.525,"c":-0.4,"n":0.48},{"t":0.575,"c":-0.4,"n":0.26},{"t":0.625,"c":-0.4,"n":0.16},{"t":0.675,"c":-0.4,"n":0.16},{"t":0.725,"c":-0.4,"n":0.16},{"t":0.775,"c":-0.4,"n":0.4},{"t":0.825,"c":-0.4,"n":0.48},{"t":0.875,"c":-0.4,"n":0.4},{"t":0.925,"c":-0.4,"n":0.16},{"t":0.975,"c":-0.4,"n":0.16},
{"t":-0.475,"c":-0.35,"n":0.06},{"t":-0.425,"c":-0.35,"n":0.16},{"t":-0.375,"c":-0.35,"n":0.16},{"t":-0.325,"c":-0.35,"n":0.4},{"t":-0.275,"c":-0.35,"n":0.26},{"t":-0.225,"c":-0.35,"n":0.06},{"t":-0.175,"c":-0.35,"n":0.26},{"t":-0.125,"c":-0.35,"n":0.06},{"t":-0.075,"c":-0.35,"n":0.16},{"t":-0.025,"c":-0.35,"n":0.06},{"t":0.025,"c":-0.35,"n":0.06},{"t":0.075,"c":-0.35,"n":0.26},{"t":0.125,"c":-0.35,"n":0.66},{"t":0.175,"c":-0.35,"n":0.66},{"t":0.225,"c":-0.35,"n":0.78},{"t":0.275,"c":-0.35,"n":1.07},{"t":0.325,"c":-0.35,"n":0.54},{"t":0.375,"c":-0.35,"n":0.4},{"t":0.425,"c":-0.35,"n":0.78},{"t":0.475,"c":-0.35,"n":0.4},{"t":0.525,"c":-0.35,"n":0.26},{"t":0.575,"c":-0.35,"n":0.48},{"t":0.625,"c":-0.35,"n":0.26},{"t":0.675,"c":-0.35,"n":0.48},{"t":0.725,"c":-0.35,"n":0.54},{"t":0.775,"c":-0.35,"n":0.16},{"t":0.825,"c":-0.35,"n":0.48},{"t":0.875,"c":-0.35,"n":0.26},{"t":0.925,"c":-0.35,"n":0.48},{"t":0.975,"c":-0.35,"n":0.26},
{"t":-0.475,"c":-0.3,"n":0.16},{"t":-0.425,"c":-0.3,"n":0.4},{"t":-0.375,"c":-0.3,"n":0.26},{"t":-0.325,"c":-0.3,"n":0.26},{"t":-0.275,"c":-0.3,"n":0.4},{"t":-0.225,"c":-0.3,"n":0.06},{"t":-0.175,"c":-0.3,"n":0.26},{"t":-0.125,"c":-0.3,"n":0.26},{"t":-0.075,"c":-0.3,"n":0.16},{"t":-0.025,"c":-0.3,"n":0.16},{"t":0.025,"c":-0.3,"n":0.16},{"t":0.075,"c":-0.3,"n":0.78},{"t":0.125,"c":-0.3,"n":1.48},{"t":0.175,"c":-0.3,"n":1.48},{"t":0.225,"c":-0.3,"n":0.84},{"t":0.275,"c":-0.3,"n":1.07},{"t":0.325,"c":-0.3,"n":0.48},{"t":0.375,"c":-0.3,"n":0.66},{"t":0.425,"c":-0.3,"n":0.66},{"t":0.475,"c":-0.3,"n":0.78},{"t":0.525,"c":-0.3,"n":0.4},{"t":0.575,"c":-0.3,"n":0.4},{"t":0.625,"c":-0.3,"n":0.54},{"t":0.675,"c":-0.3,"n":0.26},{"t":0.725,"c":-0.3,"n":0.72},{"t":0.775,"c":-0.3,"n":0.72},{"t":0.825,"c":-0.3,"n":0.54},{"t":0.875,"c":-0.3,"n":0.26},{"t":0.925,"c":-0.3,"n":0.48},{"t":0.975,"c":-0.3,"n":0.4},
{"t":-0.475,"c":-0.25,"n":0.54},{"t":-0.425,"c":-0.25,"n":0.78},{"t":-0.375,"c":-0.25,"n":0.26},{"t":-0.325,"c":-0.25,"n":0.4},{"t":-0.275,"c":-0.25,"n":0.26},{"t":-0.225,"c":-0.25,"n":0.16},{"t":-0.175,"c":-0.25,"n":0.26},{"t":-0.125,"c":-0.25,"n":0.16},{"t":-0.075,"c":-0.25,"n":0.4},{"t":-0.025,"c":-0.25,"n":0.4},{"t":0.025,"c":-0.25,"n":0.54},{"t":0.075,"c":-0.25,"n":1.07},{"t":0.125,"c":-0.25,"n":1.4},{"t":0.175,"c":-0.25,"n":1.07},{"t":0.225,"c":-0.25,"n":0.84},{"t":0.275,"c":-0.25,"n":1.4},{"t":0.325,"c":-0.25,"n":0.78},{"t":0.375,"c":-0.25,"n":0.98},{"t":0.425,"c":-0.25,"n":0.66},{"t":0.475,"c":-0.25,"n":0.54},{"t":0.525,"c":-0.25,"n":0.78},{"t":0.575,"c":-0.25,"n":0.78},{"t":0.625,"c":-0.25,"n":0.54},{"t":0.675,"c":-0.25,"n":0.4},{"t":0.725,"c":-0.25,"n":0.78},{"t":0.775,"c":-0.25,"n":0.4},{"t":0.825,"c":-0.25,"n":0.78},{"t":0.875,"c":-0.25,"n":0.72},{"t":0.925,"c":-0.25,"n":0.84},{"t":0.975,"c":-0.25,"n":0.98},
{"t":-0.475,"c":-0.2,"n":0.84},{"t":-0.425,"c":-0.2,"n":0.54},{"t":-0.375,"c":-0.2,"n":0.72},{"t":-0.325,"c":-0.2,"n":0.66},{"t":-0.275,"c":-0.2,"n":0.66},{"t":-0.225,"c":-0.2,"n":1.07},{"t":-0.175,"c":-0.2,"n":0.78},{"t":-0.125,"c":-0.2,"n":0.26},{"t":-0.075,"c":-0.2,"n":0.72},{"t":-0.025,"c":-0.2,"n":0.66},{"t":0.025,"c":-0.2,"n":0.4},{"t":0.075,"c":-0.2,"n":1.75},{"t":0.125,"c":-0.2,"n":0.98},{"t":0.175,"c":-0.2,"n":1.07},{"t":0.225,"c":-0.2,"n":1.22},{"t":0.275,"c":-0.2,"n":1.22},{"t":0.325,"c":-0.2,"n":0.54},{"t":0.375,"c":-0.2,"n":1.07},{"t":0.425,"c":-0.2,"n":0.84},{"t":0.475,"c":-0.2,"n":0.84},{"t":0.525,"c":-0.2,"n":1.58},{"t":0.575,"c":-0.2,"n":1.4},{"t":0.625,"c":-0.2,"n":1.22},{"t":0.675,"c":-0.2,"n":1.8},{"t":0.725,"c":-0.2,"n":1.4},{"t":0.775,"c":-0.2,"n":1.58},{"t":0.825,"c":-0.2,"n":0.78},{"t":0.875,"c":-0.2,"n":0.98},{"t":0.925,"c":-0.2,"n":1.07},{"t":0.975,"c":-0.2,"n":0.98},
{"t":-0.475,"c":-0.15,"n":0.72},{"t":-0.425,"c":-0.15,"n":1.07},{"t":-0.375,"c":-0.15,"n":0.66},{"t":-0.325,"c":-0.15,"n":1.48},{"t":-0.275,"c":-0.15,"n":0.84},{"t":-0.225,"c":-0.15,"n":0.84},{"t":-0.175,"c":-0.15,"n":1.07},{"t":-0.125,"c":-0.15,"n":1.22},{"t":-0.075,"c":-0.15,"n":0.66},{"t":-0.025,"c":-0.15,"n":0.98},{"t":0.025,"c":-0.15,"n":1.48},{"t":0.075,"c":-0.15,"n":0.98},{"t":0.125,"c":-0.15,"n":1.29},{"t":0.175,"c":-0.15,"n":1.07},{"t":0.225,"c":-0.15,"n":1.29},{"t":0.275,"c":-0.15,"n":1.07},{"t":0.325,"c":-0.15,"n":0.84},{"t":0.375,"c":-0.15,"n":1.29},{"t":0.425,"c":-0.15,"n":1.29},{"t":0.475,"c":-0.15,"n":0.98},{"t":0.525,"c":-0.15,"n":1.29},{"t":0.575,"c":-0.15,"n":1.22},{"t":0.625,"c":-0.15,"n":1.58},{"t":0.675,"c":-0.15,"n":1.22},{"t":0.725,"c":-0.15,"n":0.84},{"t":0.775,"c":-0.15,"n":1.29},{"t":0.825,"c":-0.15,"n":0.78},{"t":0.875,"c":-0.15,"n":0.84},{"t":0.925,"c":-0.15,"n":1.48},{"t":0.975,"c":-0.15,"n":0.54},
{"t":-0.475,"c":-0.1,"n":1.29},{"t":-0.425,"c":-0.1,"n":1.4},{"t":-0.375,"c":-0.1,"n":1.29},{"t":-0.325,"c":-0.1,"n":0.72},{"t":-0.275,"c":-0.1,"n":1.4},{"t":-0.225,"c":-0.1,"n":0.72},{"t":-0.175,"c":-0.1,"n":1.07},{"t":-0.125,"c":-0.1,"n":1.29},{"t":-0.075,"c":-0.1,"n":1.75},{"t":-0.025,"c":-0.1,"n":1.92},{"t":0.025,"c":-0.1,"n":0.78},{"t":0.075,"c":-0.1,"n":1.22},{"t":0.125,"c":-0.1,"n":0.66},{"t":0.175,"c":-0.1,"n":0.84},{"t":0.225,"c":-0.1,"n":1.07},{"t":0.275,"c":-0.1,"n":0.98},{"t":0.325,"c":-0.1,"n":1.4},{"t":0.375,"c":-0.1,"n":0.54},{"t":0.425,"c":-0.1,"n":1.29},{"t":0.475,"c":-0.1,"n":1.48},{"t":0.525,"c":-0.1,"n":1.48},{"t":0.575,"c":-0.1,"n":1.07},{"t":0.625,"c":-0.1,"n":1.22},{"t":0.675,"c":-0.1,"n":0.78},{"t":0.725,"c":-0.1,"n":1.22},{"t":0.775,"c":-0.1,"n":0.98},{"t":0.825,"c":-0.1,"n":1.07},{"t":0.875,"c":-0.1,"n":1.92},{"t":0.925,"c":-0.1,"n":1.22},{"t":0.975,"c":-0.1,"n":1.22},
{"t":-0.475,"c":-0.05,"n":1.22},{"t":-0.425,"c":-0.05,"n":1.07},{"t":-0.375,"c":-0.05,"n":1.4},{"t":-0.325,"c":-0.05,"n":1.8},{"t":-0.275,"c":-0.05,"n":1.48},{"t":-0.225,"c":-0.05,"n":1.92},{"t":-0.175,"c":-0.05,"n":1.58},{"t":-0.125,"c":-0.05,"n":1.07},{"t":-0.075,"c":-0.05,"n":1.8},{"t":-0.025,"c":-0.05,"n":1.29},{"t":0.025,"c":-0.05,"n":0.98},{"t":0.075,"c":-0.05,"n":1.29},{"t":0.125,"c":-0.05,"n":1.22},{"t":0.175,"c":-0.05,"n":1.07},{"t":0.225,"c":-0.05,"n":0.54},{"t":0.275,"c":-0.05,"n":0.66},{"t":0.325,"c":-0.05,"n":1.07},{"t":0.375,"c":-0.05,"n":0.98},{"t":0.425,"c":-0.05,"n":0.72},{"t":0.475,"c":-0.05,"n":1.8},{"t":0.525,"c":-0.05,"n":0.72},{"t":0.575,"c":-0.05,"n":0.84},{"t":0.625,"c":-0.05,"n":1.29},{"t":0.675,"c":-0.05,"n":1.22},{"t":0.725,"c":-0.05,"n":1.22},{"t":0.775,"c":-0.05,"n":1.48},{"t":0.825,"c":-0.05,"n":1.48},{"t":0.875,"c":-0.05,"n":1.29},{"t":0.925,"c":-0.05,"n":1.22},{"t":0.975,"c":-0.05,"n":1.48},
{"t":-0.475,"c":0,"n":1.8},{"t":-0.425,"c":0,"n":1.29},{"t":-0.375,"c":0,"n":1.75},{"t":-0.325,"c":0,"n":1.48},{"t":-0.275,"c":0,"n":1.48},{"t":-0.225,"c":0,"n":1.8},{"t":-0.175,"c":0,"n":1.29},{"t":-0.125,"c":0,"n":1.8},{"t":-0.075,"c":0,"n":0.84},{"t":-0.025,"c":0,"n":1.07},{"t":0.025,"c":0,"n":1.29},{"t":0.075,"c":0,"n":0.98},{"t":0.125,"c":0,"n":0.26},{"t":0.175,"c":0,"n":0.72},{"t":0.225,"c":0,"n":0.66},{"t":0.275,"c":0,"n":0.54},{"t":0.325,"c":0,"n":1.58},{"t":0.375,"c":0,"n":1.22},{"t":0.425,"c":0,"n":1.58},{"t":0.475,"c":0,"n":0.72},{"t":0.525,"c":0,"n":1.07},{"t":0.575,"c":0,"n":1.22},{"t":0.625,"c":0,"n":1.22},{"t":0.675,"c":0,"n":1.07},{"t":0.725,"c":0,"n":0.66},{"t":0.775,"c":0,"n":1.07},{"t":0.825,"c":0,"n":0.84},{"t":0.875,"c":0,"n":0.98},{"t":0.925,"c":0,"n":1.22},{"t":0.975,"c":0,"n":1.22},
{"t":-0.475,"c":0.05,"n":1.58},{"t":-0.425,"c":0.05,"n":1.8},{"t":-0.375,"c":0.05,"n":1.29},{"t":-0.325,"c":0.05,"n":1.29},{"t":-0.275,"c":0.05,"n":1.8},{"t":-0.225,"c":0.05,"n":1.07},{"t":-0.175,"c":0.05,"n":1.75},{"t":-0.125,"c":0.05,"n":1.8},{"t":-0.075,"c":0.05,"n":1.4},{"t":-0.025,"c":0.05,"n":1.29},{"t":0.025,"c":0.05,"n":1.92},{"t":0.075,"c":0.05,"n":0.84},{"t":0.125,"c":0.05,"n":0.26},{"t":0.175,"c":0.05,"n":0.66},{"t":0.225,"c":0.05,"n":0.4},{"t":0.275,"c":0.05,"n":0.4},{"t":0.325,"c":0.05,"n":0.98},{"t":0.375,"c":0.05,"n":0.54},{"t":0.425,"c":0.05,"n":0.66},{"t":0.475,"c":0.05,"n":0.98},{"t":0.525,"c":0.05,"n":0.78},{"t":0.575,"c":0.05,"n":0.98},{"t":0.625,"c":0.05,"n":0.98},{"t":0.675,"c":0.05,"n":0.72},{"t":0.725,"c":0.05,"n":0.98},{"t":0.775,"c":0.05,"n":1.8},{"t":0.825,"c":0.05,"n":0.98},{"t":0.875,"c":0.05,"n":1.07},{"t":0.925,"c":0.05,"n":0.72},{"t":0.975,"c":0.05,"n":1.4},
{"t":-0.475,"c":0.1,"n":1.22},{"t":-0.425,"c":0.1,"n":1.4},{"t":-0.375,"c":0.1,"n":1.07},{"t":-0.325,"c":0.1,"n":0.84},{"t":-0.275,"c":0.1,"n":1.07},{"t":-0.225,"c":0.1,"n":1.22},{"t":-0.175,"c":0.1,"n":0.84},{"t":-0.125,"c":0.1,"n":1.4},{"t":-0.075,"c":0.1,"n":1.22},{"t":-0.025,"c":0.1,"n":1.58},{"t":0.025,"c":0.1,"n":1.22},{"t":0.075,"c":0.1,"n":0.66},{"t":0.125,"c":0.1,"n":0.4},{"t":0.175,"c":0.1,"n":0.26},{"t":0.225,"c":0.1,"n":0.54},{"t":0.275,"c":0.1,"n":0.4},{"t":0.325,"c":0.1,"n":0.98},{"t":0.375,"c":0.1,"n":0.98},{"t":0.425,"c":0.1,"n":0.48},{"t":0.475,"c":0.1,"n":0.66},{"t":0.525,"c":0.1,"n":1.4},{"t":0.575,"c":0.1,"n":0.78},{"t":0.625,"c":0.1,"n":0.78},{"t":0.675,"c":0.1,"n":0.98},{"t":0.725,"c":0.1,"n":0.78},{"t":0.775,"c":0.1,"n":0.26},{"t":0.825,"c":0.1,"n":0.84},{"t":0.875,"c":0.1,"n":0.54},{"t":0.925,"c":0.1,"n":1.29},{"t":0.975,"c":0.1,"n":0.98},
{"t":-0.475,"c":0.15,"n":0.72},{"t":-0.425,"c":0.15,"n":0.66},{"t":-0.375,"c":0.15,"n":0.84},{"t":-0.325,"c":0.15,"n":1.22},{"t":-0.275,"c":0.15,"n":0.72},{"t":-0.225,"c":0.15,"n":0.84},{"t":-0.175,"c":0.15,"n":0.84},{"t":-0.125,"c":0.15,"n":1.48},{"t":-0.075,"c":0.15,"n":1.4},{"t":-0.025,"c":0.15,"n":0.78},{"t":0.025,"c":0.15,"n":1.22},{"t":0.075,"c":0.15,"n":0.46},{"t":0.125,"c":0.15,"n":0.16},{"t":0.175,"c":0.15,"n":0.4},{"t":0.225,"c":0.15,"n":0.54},{"t":0.275,"c":0.15,"n":0.48},{"t":0.325,"c":0.15,"n":0.26},{"t":0.375,"c":0.15,"n":0.78},{"t":0.425,"c":0.15,"n":0.66},{"t":0.475,"c":0.15,"n":0.48},{"t":0.525,"c":0.15,"n":0.26},{"t":0.575,"c":0.15,"n":0.84},{"t":0.625,"c":0.15,"n":0.78},{"t":0.675,"c":0.15,"n":0.84},{"t":0.725,"c":0.15,"n":0.54},{"t":0.775,"c":0.15,"n":0.66},{"t":0.825,"c":0.15,"n":0.66},{"t":0.875,"c":0.15,"n":0.66},{"t":0.925,"c":0.15,"n":1.22},{"t":0.975,"c":0.15,"n":0.72},
{"t":-0.475,"c":0.2,"n":0.84},{"t":-0.425,"c":0.2,"n":0.4},{"t":-0.375,"c":0.2,"n":0.98},{"t":-0.325,"c":0.2,"n":0.46},{"t":-0.275,"c":0.2,"n":0.78},{"t":-0.225,"c":0.2,"n":0.72},{"t":-0.175,"c":0.2,"n":0.4},{"t":-0.125,"c":0.2,"n":0.46},{"t":-0.075,"c":0.2,"n":0.66},{"t":-0.025,"c":0.2,"n":0.54},{"t":0.025,"c":0.2,"n":0.66},{"t":0.075,"c":0.2,"n":0.06},{"t":0.125,"c":0.2,"n":0.06},{"t":0.175,"c":0.2,"n":0.4},{"t":0.225,"c":0.2,"n":0.26},{"t":0.275,"c":0.2,"n":0.26},{"t":0.325,"c":0.2,"n":0.66},{"t":0.375,"c":0.2,"n":0.54},{"t":0.425,"c":0.2,"n":0.48},{"t":0.475,"c":0.2,"n":0.4},{"t":0.525,"c":0.2,"n":0.54},{"t":0.575,"c":0.2,"n":0.54},{"t":0.625,"c":0.2,"n":0.06},{"t":0.675,"c":0.2,"n":0.26},{"t":0.725,"c":0.2,"n":0.48},{"t":0.775,"c":0.2,"n":0.26},{"t":0.825,"c":0.2,"n":0.48},{"t":0.875,"c":0.2,"n":0.66},{"t":0.925,"c":0.2,"n":0.26},{"t":0.975,"c":0.2,"n":0.72},
{"t":-0.475,"c":0.25,"n":0.4},{"t":-0.425,"c":0.25,"n":0.4},{"t":-0.375,"c":0.25,"n":0.66},{"t":-0.325,"c":0.25,"n":0.46},{"t":-0.275,"c":0.25,"n":0.06},{"t":-0.225,"c":0.25,"n":0.4},{"t":-0.175,"c":0.25,"n":0.54},{"t":-0.125,"c":0.25,"n":0.26},{"t":-0.075,"c":0.25,"n":0.16},{"t":-0.025,"c":0.25,"n":0.16},{"t":0.025,"c":0.25,"n":0.46},{"t":0.075,"c":0.25,"n":0.54},{"t":0.125,"c":0.25,"n":0.4},{"t":0.175,"c":0.25,"n":0.26},{"t":0.225,"c":0.25,"n":0.16},{"t":0.275,"c":0.25,"n":0.06},{"t":0.325,"c":0.25,"n":0.54},{"t":0.375,"c":0.25,"n":0.26},{"t":0.425,"c":0.25,"n":0.06},{"t":0.475,"c":0.25,"n":0.54},{"t":0.525,"c":0.25,"n":0.4},{"t":0.575,"c":0.25,"n":0.06},{"t":0.625,"c":0.25,"n":0.4},{"t":0.675,"c":0.25,"n":0.54},{"t":0.725,"c":0.25,"n":0.26},{"t":0.775,"c":0.25,"n":0.4},{"t":0.825,"c":0.25,"n":0.26},{"t":0.875,"c":0.25,"n":0.54},{"t":0.925,"c":0.25,"n":0.06},{"t":0.975,"c":0.25,"n":0.06},
{"t":-0.475,"c":0.3,"n":0.06},{"t":-0.425,"c":0.3,"n":0.4},{"t":-0.375,"c":0.3,"n":0.06},{"t":-0.325,"c":0.3,"n":0.06},{"t":-0.275,"c":0.3,"n":0.06},{"t":-0.225,"c":0.3,"n":0.06},{"t":-0.175,"c":0.3,"n":0.26},{"t":-0.125,"c":0.3,"n":0.06},{"t":-0.075,"c":0.3,"n":0.4},{"t":-0.025,"c":0.3,"n":0.16},{"t":0.025,"c":0.3,"n":0.4},{"t":0.075,"c":0.3,"n":0.26},{"t":0.125,"c":0.3,"n":0.06},{"t":0.175,"c":0.3,"n":0.26},{"t":0.225,"c":0.3,"n":0.16},{"t":0.275,"c":0.3,"n":0.06},{"t":0.325,"c":0.3,"n":0.06},{"t":0.375,"c":0.3,"n":0.06},{"t":0.425,"c":0.3,"n":0.4},{"t":0.475,"c":0.3,"n":0.26},{"t":0.525,"c":0.3,"n":0.06},{"t":0.575,"c":0.3,"n":0.06},{"t":0.625,"c":0.3,"n":0.16},{"t":0.675,"c":0.3,"n":0.26},{"t":0.725,"c":0.3,"n":0.26},{"t":0.775,"c":0.3,"n":0.06},{"t":0.825,"c":0.3,"n":0.48},{"t":0.875,"c":0.3,"n":0.26},{"t":0.925,"c":0.3,"n":0.06},{"t":0.975,"c":0.3,"n":0.26},
{"t":-0.475,"c":0.35,"n":0.06},{"t":-0.425,"c":0.35,"n":0.06},{"t":-0.375,"c":0.35,"n":0.06},{"t":-0.325,"c":0.35,"n":0.06},{"t":-0.275,"c":0.35,"n":0.06},{"t":-0.225,"c":0.35,"n":0.06},{"t":-0.175,"c":0.35,"n":0.16},{"t":-0.125,"c":0.35,"n":0.06},{"t":-0.075,"c":0.35,"n":0.06},{"t":-0.025,"c":0.35,"n":0.26},{"t":0.025,"c":0.35,"n":0.06},{"t":0.075,"c":0.35,"n":0.16},{"t":0.125,"c":0.35,"n":0.06},{"t":0.175,"c":0.35,"n":0.16},{"t":0.225,"c":0.35,"n":0.16},{"t":0.275,"c":0.35,"n":0.06},{"t":0.325,"c":0.35,"n":0.06},{"t":0.375,"c":0.35,"n":0.26},{"t":0.425,"c":0.35,"n":0.16},{"t":0.475,"c":0.35,"n":0.26},{"t":0.525,"c":0.35,"n":0.16},{"t":0.575,"c":0.35,"n":0.16},{"t":0.625,"c":0.35,"n":0.06},{"t":0.675,"c":0.35,"n":0.16},{"t":0.725,"c":0.35,"n":0.16},{"t":0.775,"c":0.35,"n":0.06},{"t":0.825,"c":0.35,"n":0.16},{"t":0.875,"c":0.35,"n":0.16},{"t":0.925,"c":0.35,"n":0.06},{"t":0.975,"c":0.35,"n":0.06},
{"t":-0.475,"c":0.4,"n":0.06},{"t":-0.425,"c":0.4,"n":0.06},{"t":-0.375,"c":0.4,"n":0.06},{"t":-0.325,"c":0.4,"n":0.06},{"t":-0.275,"c":0.4,"n":0.06},{"t":-0.225,"c":0.4,"n":0.26},{"t":-0.175,"c":0.4,"n":0.16},{"t":-0.125,"c":0.4,"n":0.06},{"t":-0.075,"c":0.4,"n":0.06},{"t":-0.025,"c":0.4,"n":0.06},{"t":0.025,"c":0.4,"n":0.06},{"t":0.075,"c":0.4,"n":0.06},{"t":0.125,"c":0.4,"n":0.16},{"t":0.175,"c":0.4,"n":0.06},{"t":0.225,"c":0.4,"n":0.06},{"t":0.275,"c":0.4,"n":0.06},{"t":0.325,"c":0.4,"n":0.06},{"t":0.375,"c":0.4,"n":0.16},{"t":0.425,"c":0.4,"n":0.06},{"t":0.475,"c":0.4,"n":0.16},{"t":0.525,"c":0.4,"n":0.06},{"t":0.575,"c":0.4,"n":0.16},{"t":0.625,"c":0.4,"n":0.06},{"t":0.675,"c":0.4,"n":0.06},{"t":0.725,"c":0.4,"n":0.06},{"t":0.775,"c":0.4,"n":0.06},{"t":0.825,"c":0.4,"n":0.06},{"t":0.875,"c":0.4,"n":0.06},{"t":0.925,"c":0.4,"n":0.06},{"t":0.975,"c":0.4,"n":0.06},
{"t":-0.475,"c":0.45,"n":0.06},{"t":-0.425,"c":0.45,"n":0.06},{"t":-0.375,"c":0.45,"n":0.06},{"t":-0.325,"c":0.45,"n":0.06},{"t":-0.275,"c":0.45,"n":0.06},{"t":-0.225,"c":0.45,"n":0.06},{"t":-0.175,"c":0.45,"n":0.06},{"t":-0.125,"c":0.45,"n":0.06},{"t":-0.075,"c":0.45,"n":0.06},{"t":-0.025,"c":0.45,"n":0.06},{"t":0.025,"c":0.45,"n":0.06},{"t":0.075,"c":0.45,"n":0.06},{"t":0.125,"c":0.45,"n":0.16},{"t":0.175,"c":0.45,"n":0.16},{"t":0.225,"c":0.45,"n":0.06},{"t":0.275,"c":0.45,"n":0.06},{"t":0.325,"c":0.45,"n":0.16},{"t":0.375,"c":0.45,"n":0.16},{"t":0.425,"c":0.45,"n":0.06},{"t":0.475,"c":0.45,"n":0.16},{"t":0.525,"c":0.45,"n":0.16},{"t":0.575,"c":0.45,"n":0.06},{"t":0.625,"c":0.45,"n":0.06},{"t":0.675,"c":0.45,"n":0.06},{"t":0.725,"c":0.45,"n":0.06},{"t":0.775,"c":0.45,"n":0.06},{"t":0.825,"c":0.45,"n":0.16},{"t":0.875,"c":0.45,"n":0.06},{"t":0.925,"c":0.45,"n":0.16},{"t":0.975,"c":0.45,"n":0.06},
{"t":-0.475,"c":0.5,"n":0.16},{"t":-0.425,"c":0.5,"n":0.06},{"t":-0.375,"c":0.5,"n":0.06},{"t":-0.325,"c":0.5,"n":0.06},{"t":-0.275,"c":0.5,"n":0.06},{"t":-0.225,"c":0.5,"n":0.06},{"t":-0.175,"c":0.5,"n":0.06},{"t":-0.125,"c":0.5,"n":0.06},{"t":-0.075,"c":0.5,"n":0.06},{"t":-0.025,"c":0.5,"n":0.06},{"t":0.025,"c":0.5,"n":0.16},{"t":0.075,"c":0.5,"n":0.06},{"t":0.125,"c":0.5,"n":0.06},{"t":0.175,"c":0.5,"n":0.06},{"t":0.225,"c":0.5,"n":0.06},{"t":0.275,"c":0.5,"n":0.06},{"t":0.325,"c":0.5,"n":0.06},{"t":0.375,"c":0.5,"n":0.06},{"t":0.425,"c":0.5,"n":0.06},{"t":0.475,"c":0.5,"n":0.06},{"t":0.525,"c":0.5,"n":0.06},{"t":0.575,"c":0.5,"n":0.06},{"t":0.625,"c":0.5,"n":0.06},{"t":0.675,"c":0.5,"n":0.06},{"t":0.725,"c":0.5,"n":0.06},{"t":0.775,"c":0.5,"n":0.16},{"t":0.825,"c":0.5,"n":0.06},{"t":0.875,"c":0.5,"n":0.06},{"t":0.925,"c":0.5,"n":0.06},{"t":0.975,"c":0.5,"n":0.06}
]},"mark":{"type":"rect","width":18.3,"height":9.9,"clip":true},"encoding":{"x":{"field":"t","type":"quantitative","scale":{"domain":[-0.49444,0.98889],"nice":false,"zero":false},"axis":{"values":[-0.4,-0.2,0,0.2,0.4,0.6,0.8],"title":"Time from Cue (sec)","titleX":252,"titleY":36,"tickSize":-7,"labelPadding":13,"labelExpr":"replace(format(datum.value,'.1~f'),'−','-')"}},"y":{"field":"c","type":"quantitative","scale":{"domain":[-0.525,0.525],"nice":false,"zero":false,"reverse":true},"axis":{"values":[-0.5,0,0.5],"title":"Correlation Coefficient","titleFontSize":27,"titleX":-57,"titleY":-19,"tickSize":-4,"labelPadding":16,"labelFontSize":23,"labelOffset":-3,"labelExpr":"replace(format(datum.value,'.1~f'),'−','-')"}},"color":{"field":"n","type":"quantitative","legend":null,"scale":{"domain":[0.06,0.16,0.26,0.3,0.4,0.5,0.6,0.7,0.78,0.84,0.9,0.98,1.07,1.16,1.22,1.29,1.4,1.48,1.58,1.68,1.75,1.8,1.88,1.98],"range":["#524a7a","#433f86","#3a3a90","#2e3192","#1b4aa0","#0a5fb0","#0078c4","#00a0e0","#00aeef","#00b9c8","#3dbdb5","#8fce96","#c5da6e","#eee83a","#fff200","#ffd700","#fdb913","#f7941d","#f26522","#ee3124","#ed1c24","#d2412f","#b0583f","#8f5a4e"]}}}},
{"data":{"values":[{"t":-0.475,"c":-0.009},{"t":-0.425,"c":-0.023},{"t":-0.375,"c":0.007},{"t":-0.325,"c":-0.023},{"t":-0.275,"c":-0.02},{"t":-0.225,"c":0.013},{"t":-0.175,"c":0},{"t":-0.125,"c":0.007},{"t":-0.075,"c":0.002},{"t":-0.025,"c":-0.011},{"t":0.025,"c":0.018},{"t":0.075,"c":-0.095},{"t":0.125,"c":-0.211},{"t":0.175,"c":-0.149},{"t":0.225,"c":-0.172},{"t":0.275,"c":-0.215},{"t":0.325,"c":-0.065},{"t":0.375,"c":-0.072},{"t":0.425,"c":-0.118},{"t":0.475,"c":-0.056},{"t":0.525,"c":-0.075},{"t":0.575,"c":-0.074},{"t":0.625,"c":-0.07},{"t":0.675,"c":-0.065},{"t":0.725,"c":-0.092},{"t":0.775,"c":-0.077},{"t":0.825,"c":-0.065},{"t":0.875,"c":-0.045},{"t":0.925,"c":-0.065},{"t":0.975,"c":-0.054}]},"mark":{"type":"line","color":"white","strokeWidth":5},"encoding":{"x":{"field":"t","type":"quantitative","scale":{"domain":[-0.49444,0.98889],"nice":false,"zero":false},"axis":{"orient":"top","values":[-0.4,-0.2,0,0.2,0.4,0.6,0.8],"title":"Correlated Neurons","titleX":258.5,"titleY":-6,"labels":false,"tickSize":-7}},"y":{"field":"c","type":"quantitative","scale":{"domain":[-0.525,0.525],"nice":false,"zero":false,"reverse":true},"axis":{"orient":"right","values":[-0.5,0,0.5],"title":null,"labels":false,"tickSize":-4}}}}
]},
{"width":21,"height":195,"view":{"stroke":"#222","strokeWidth":3},"data":{"values":[{"n":0.02},{"n":0.05},{"n":0.08},{"n":0.11},{"n":0.14},{"n":0.17},{"n":0.2},{"n":0.23},{"n":0.27},{"n":0.3},{"n":0.33},{"n":0.36},{"n":0.39},{"n":0.42},{"n":0.45},{"n":0.48},{"n":0.52},{"n":0.55},{"n":0.58},{"n":0.61},{"n":0.64},{"n":0.67},{"n":0.7},{"n":0.73},{"n":0.77},{"n":0.8},{"n":0.83},{"n":0.86},{"n":0.89},{"n":0.92},{"n":0.95},{"n":0.98},{"n":1.02},{"n":1.05},{"n":1.08},{"n":1.11},{"n":1.14},{"n":1.17},{"n":1.2},{"n":1.23},{"n":1.27},{"n":1.3},{"n":1.33},{"n":1.36},{"n":1.39},{"n":1.42},{"n":1.45},{"n":1.48},{"n":1.52},{"n":1.55},{"n":1.58},{"n":1.61},{"n":1.64},{"n":1.67},{"n":1.7},{"n":1.73},{"n":1.77},{"n":1.8},{"n":1.83},{"n":1.86},{"n":1.89},{"n":1.92},{"n":1.95},{"n":1.98}]},"mark":{"type":"rect","height":3.4,"width":18},"encoding":{"x":{"datum":0.5,"type":"quantitative","scale":{"domain":[0,1]},"axis":{"orient":"top","domain":false,"ticks":false,"labels":false,"title":"# Neurons","titleFontSize":25,"titleAlign":"right","titleX":23,"titleY":-3}},"y":{"field":"n","type":"quantitative","scale":{"domain":[0,2],"nice":false,"zero":false},"axis":{"orient":"right","domain":false,"values":[0,1,2],"format":"d","title":null,"tickSize":-3,"labelPadding":3,"labelFontSize":19}},"color":{"field":"n","type":"quantitative","legend":null,"scale":{"domain":[0.06,0.16,0.26,0.3,0.4,0.5,0.6,0.7,0.78,0.84,0.9,0.98,1.07,1.16,1.22,1.29,1.4,1.48,1.58,1.68,1.75,1.8,1.88,1.98],"range":["#524a7a","#433f86","#3a3a90","#2e3192","#1b4aa0","#0a5fb0","#0078c4","#00a0e0","#00aeef","#00b9c8","#3dbdb5","#8fce96","#c5da6e","#eee83a","#fff200","#ffd700","#fdb913","#f7941d","#f26522","#ee3124","#ed1c24","#d2412f","#b0583f","#8f5a4e"]}}}}
]}
